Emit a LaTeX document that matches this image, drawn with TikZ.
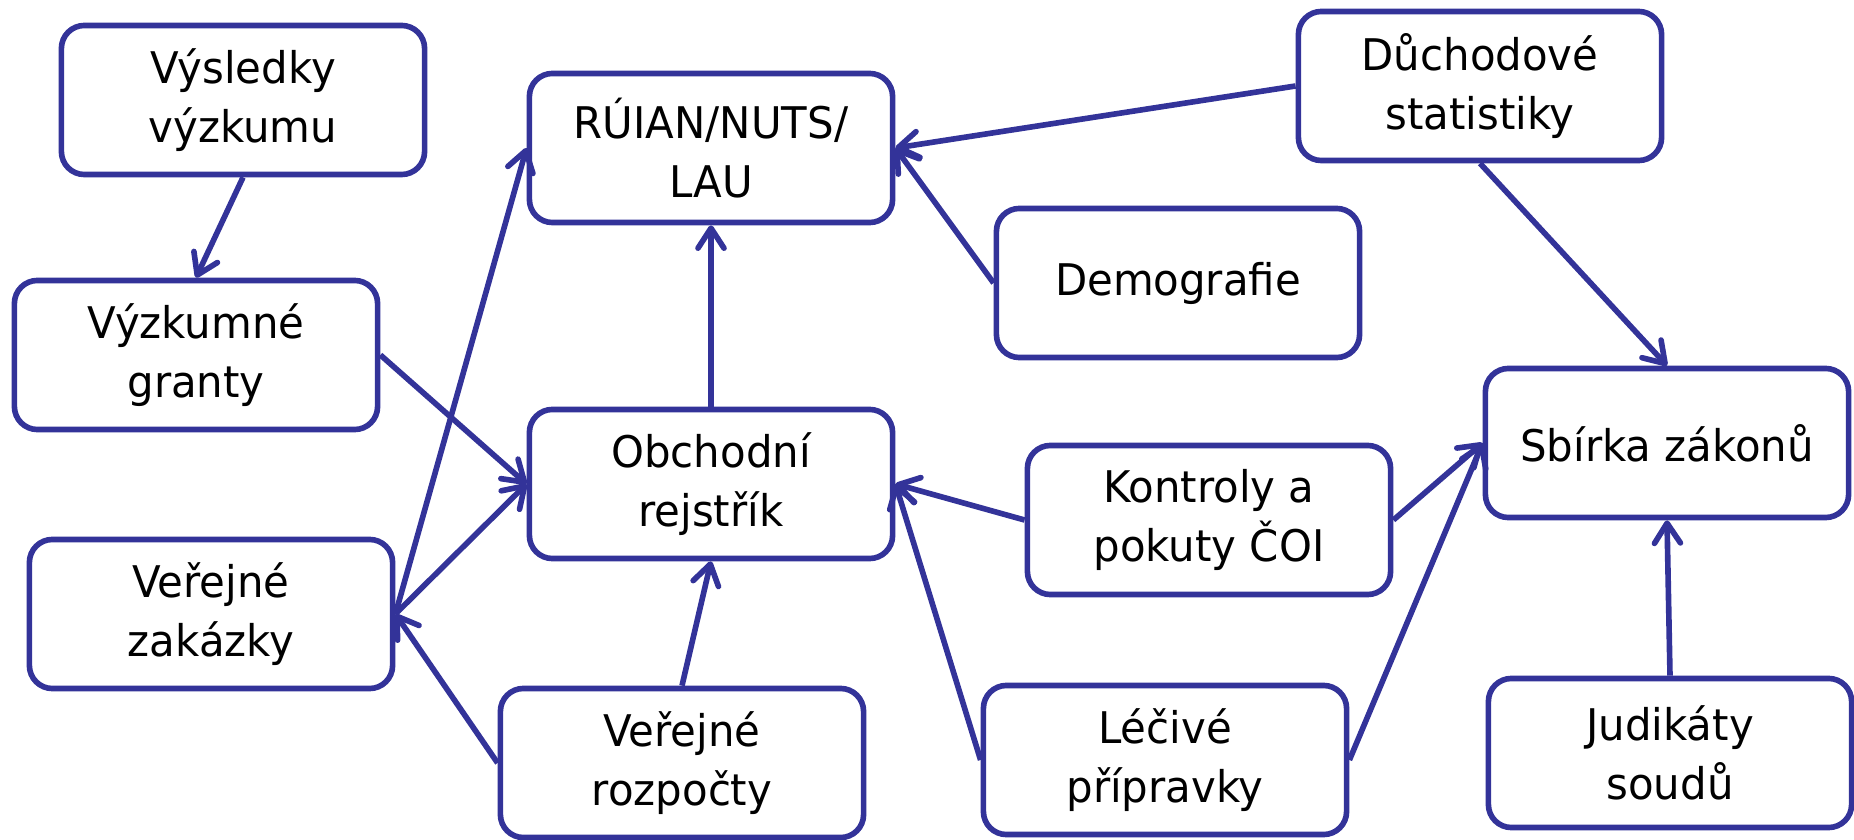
\documentclass[tikz,border=0pt]{standalone}
\usepackage{fontspec}
\setmainfont[FakeStretch=0.96]{DejaVu Sans}
\usetikzlibrary{arrows.meta}
\definecolor{boxblue}{RGB}{51,51,153}

\begin{document}
\begin{tikzpicture}[x=0.01cm, y=-0.01cm,
    B/.style={draw=boxblue, line width=1.6pt, rounded corners=0.23cm,
      fill=white, minimum width=3.63cm, minimum height=1.49cm,
      inner sep=0pt, align=center, font=\fontsize{12.4}{16.6}\selectfont},
    A/.style={draw=boxblue, line width=1.6pt,
      -{Straight Barb[length=2mm, width=2.6mm, round]}}]
    \useasboundingbox (0,0) rectangle (1854,840);
    \node[B] (vysl) at (243,100) {Výsledky\\výzkumu};
    \node[B] (gran) at (196,355) {Výzkumné\\granty};
    \node[B] (zak) at (211,614) {Veřejné\\zakázky};
    \node[B] (ruian) at (711,148) {RÚIAN/NUTS/\\LAU};
    \node[B] (obch) at (711,484) {Obchodní\\rejstřík};
    \node[B] (rozp) at (682,763) {Veřejné\\rozpočty};
    \node[B] (duch) at (1480,86) {Důchodové\\statistiky};
    \node[B] (demo) at (1178,283) {Demografie};
    \node[B] (kontr) at (1209,520) {Kontroly a\\pokuty ČOI};
    \node[B] (lec) at (1165,760) {Léčivé\\přípravky};
    \node[B] (sbirka) at (1667,443) {Sbírka zákonů};
    \node[B] (jud) at (1670,753) {Judikáty\\soudů};

    \draw[A] (vysl.south) -- (gran.north);
    \draw[A] (gran.east) -- (obch.west);
    \draw[A] (zak.east) -- (obch.west);
    \draw[A] (zak.east) -- (ruian.west);
    \draw[A] (rozp.west) -- (zak.east);
    \draw[A] (obch.north) -- (ruian.south);
    \draw[A] (rozp.north) -- (obch.south);
    \draw[A] (duch.west) -- (ruian.east);
    \draw[A] (demo.west) -- (ruian.east);
    \draw[A] (kontr.west) -- (obch.east);
    \draw[A] (lec.west) -- (obch.east);
    \draw[A] (duch.south) -- (sbirka.north);
    \draw[A] (kontr.east) -- (sbirka.west);
    \draw[A] (lec.east) -- (sbirka.west);
    \draw[A] (jud.north) -- (sbirka.south);
\end{tikzpicture}
\end{document}
